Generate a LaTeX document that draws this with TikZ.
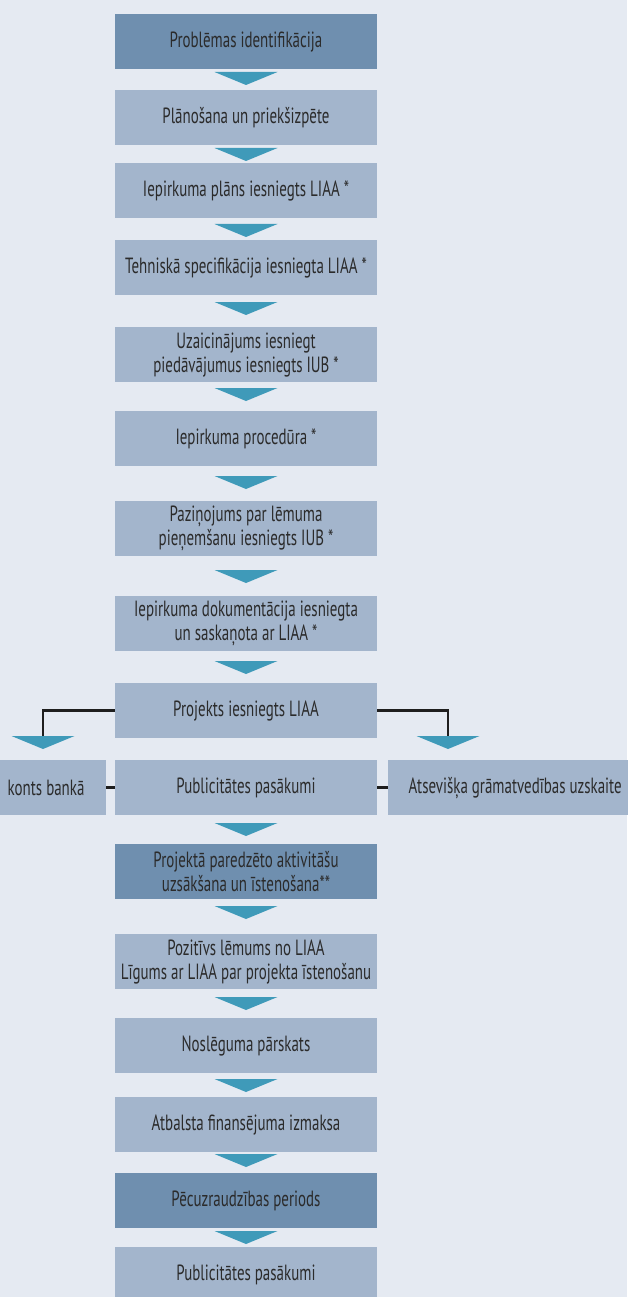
\documentclass[tikz,border=0pt]{standalone}
\usepackage{fontspec}
\setmainfont[FakeStretch=0.68]{PT Sans}
\usetikzlibrary{calc}
\definecolor{bgc}{HTML}{E5EAF2}
\definecolor{lightc}{HTML}{A3B5CC}
\definecolor{darkc}{HTML}{6F8FAF}
\definecolor{arrowc}{HTML}{3F9AB9}
\definecolor{txtc}{HTML}{2B2B2B}
\definecolor{linec}{HTML}{1E1E1E}
\newcommand\downtri[1]{\fill[arrowc] ($(#1)+(-31.5,0)$) -- ($(#1)+(31.5,0)$) -- ($(#1)+(0,13)$) -- cycle;}
\newcommand\boxfont{\fontsize{22}{24}\selectfont}
\begin{document}
\begin{tikzpicture}[x=1pt,y=-1pt,
  box/.style={fill=lightc, minimum width=262pt, minimum height=55pt, inner sep=0pt,
    text width=262pt, align=flush center, font=\boxfont, text=txtc, anchor=north},
  darkbox/.style={box, fill=darkc},
  conn/.style={draw=linec, line width=2.5pt}]
\fill[bgc] (0,0) rectangle (627,1297);
\useasboundingbox (0,0) rectangle (627,1297);

\node[darkbox] (b1) at (246,14) {Problēmas identifikācija};
\node[box] (b2) at (246,90) {Plānošana un priekšizpēte};
\node[box] (b3) at (246,163) {Iepirkuma plāns iesniegts LIAA *};
\node[box] (b4) at (246,240) {Tehniskā specifikācija iesniegta LIAA *};
\node[box] (b5) at (246,327) {Uzaicinājums iesniegt\\piedāvājumus iesniegts IUB *};
\node[box] (b6) at (246,411) {Iepirkuma procedūra *};
\node[box] (b7) at (246,501) {Paziņojums par lēmuma\\pieņemšanu iesniegts IUB *};
\node[box] (b8) at (246,596) {Iepirkuma dokumentācija iesniegta\\un saskaņota ar LIAA *};
\node[box] (b9) at (246,683) {Projekts iesniegts LIAA};
\node[box] (pub) at (246,760) {Publicitātes pasākumi};
\node[box, minimum width=106pt, text width=101pt, align=flush left, anchor=north west] (konts) at (0,760) {\hspace*{5pt}konts bankā};
\node[box, minimum width=254pt, text width=254pt, anchor=north west] (ats) at (388,760) {Atsevišķa grāmatvedības uzskaite};
\node[darkbox] (b11) at (246,844) {Projektā paredzēto aktivitāšu\\uzsākšana un īstenošana**};
\node[box] (b12) at (246,934) {Pozitīvs lēmums no LIAA\\Līgums ar LIAA par projekta īstenošanu};
\node[box] (b13) at (246,1018) {Noslēguma pārskats};
\node[box] (b14) at (246,1097) {Atbalsta finansējuma izmaksa};
\node[darkbox] (b15) at (246,1173) {Pēcuzraudzības periods};
\node[box] (b16) at (246,1247) {Publicitātes pasākumi};

% arrow tops
\coordinate (a1) at (246,72);
\coordinate (a2) at (246,148);
\coordinate (a3) at (246,224);
\coordinate (a4) at (246,302);
\coordinate (a5) at (246,388);
\coordinate (a6) at (246,476);
\coordinate (a7) at (246,570);
\coordinate (a8) at (246,661);
\coordinate (a10) at (246,823);
\coordinate (a11) at (246,906);
\coordinate (a12) at (246,997);
\coordinate (a13) at (246,1079);
\coordinate (a14) at (246,1154);
\coordinate (a15) at (246,1231);
\coordinate (al) at (43,736);
\coordinate (ar) at (448,736);

\draw[conn] (b9.west) -| ($(al)+(0,1)$);
\draw[conn] (b9.east) -| ($(ar)+(0,1)$);
\draw[conn] (konts.east) -- (pub.west);
\draw[conn] (pub.east) -- (ats.west);

\foreach \a in {a1,a2,a3,a4,a5,a6,a7,a8,a10,a11,a12,a13,a14,a15,al,ar}{\downtri{\a}}
\end{tikzpicture}
\end{document}
